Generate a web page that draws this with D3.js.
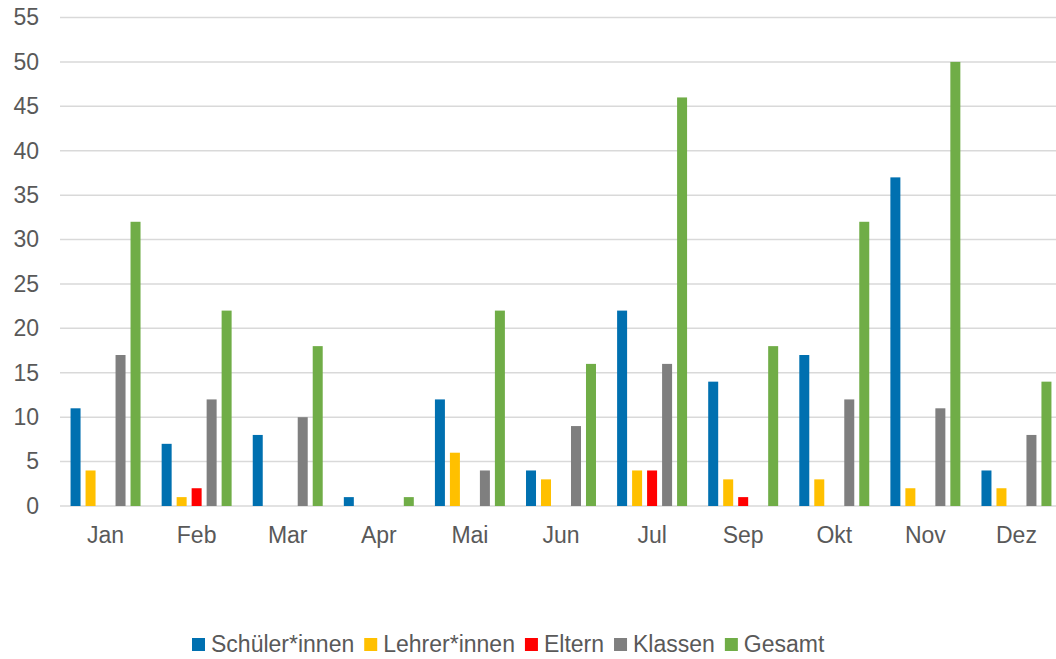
<!DOCTYPE html>
<html>
<head>
<meta charset="utf-8">
<script src="https://cdn.jsdelivr.net/npm/d3@7"></script>
<style>
  html, body { margin: 0; padding: 0; background: #fff; }
  svg { display: block; }
  text { font-family: "Liberation Sans", Arial, sans-serif; fill: #595959; }
</style>
</head>
<body>
<svg id="chart" width="1056" height="659"></svg>
<script>
const categories = ["Jan", "Feb", "Mar", "Apr", "Mai", "Jun", "Jul", "Sep", "Okt", "Nov", "Dez"];
const seriesNames = ["Schüler*innen", "Lehrer*innen", "Eltern", "Klassen", "Gesamt"];
const seriesColors = ["#0070b0", "#ffc000", "#ff0000", "#7f7f7f", "#70ad47"];
const schueler = [11, 7, 8, 1, 12, 4, 22, 14, 17, 37, 4];
const lehrer   = [4, 1, 0, 0, 6, 3, 4, 3, 3, 2, 2];
const eltern   = [0, 2, 0, 0, 0, 0, 4, 1, 0, 0, 0];
const klassen  = [17, 12, 10, 0, 4, 9, 16, 0, 12, 11, 8];
const gesamt   = [32, 22, 18, 1, 22, 16, 46, 18, 32, 50, 14];
const yTicks = [0, 5, 10, 15, 20, 25, 30, 35, 40, 45, 50, 55];

(function () {
const seriesValues = [schueler, lehrer, eltern, klassen, gesamt];
const svg = d3.select("#chart");
const fs = 23;

const mLeft = 60, mRight = 1062, mTop = 17.5, mBottom = 506;

const x0 = d3.scaleBand().domain(categories).range([mLeft, mRight])
  .paddingInner(0.177).paddingOuter(0.0885);
const x1 = d3.scaleBand().domain(seriesNames).range([0, x0.bandwidth()])
  .paddingInner(1/3).paddingOuter(1/6);
const y = d3.scaleLinear().domain([0, 55]).range([mBottom, mTop]);

// gridlines
svg.append("g").selectAll("line").data(yTicks).join("line")
  .attr("x1", mLeft).attr("x2", 1056)
  .attr("y1", d => y(d)).attr("y2", d => y(d))
  .attr("stroke", "#d9d9d9").attr("stroke-width", 1.5);

// y axis labels
const yAxis = d3.axisLeft(y).tickValues(yTicks).tickSize(0).tickPadding(0);
const gy = svg.append("g").attr("transform", "translate(39,0)").call(yAxis);
gy.select(".domain").remove();
gy.selectAll("text").attr("font-size", fs).attr("fill", "#595959")
  .attr("font-family", "Liberation Sans, Arial, sans-serif");

// x axis labels
const xAxis = d3.axisBottom(x0).tickSize(0).tickPadding(0);
const gx = svg.append("g").attr("transform", `translate(0,${mBottom})`).call(xAxis);
gx.select(".domain").remove();
gx.selectAll("text").attr("font-size", fs).attr("fill", "#595959")
  .attr("font-family", "Liberation Sans, Arial, sans-serif")
  .attr("dy", null).attr("y", 37);

// bars
const groups = svg.append("g").selectAll("g").data(categories).join("g")
  .attr("transform", d => `translate(${x0(d)},0)`);
groups.selectAll("rect")
  .data((c, i) => seriesNames.map((s, j) => ({ s, j, v: seriesValues[j][i] })))
  .join("rect")
  .attr("x", d => x1(d.s))
  .attr("width", x1.bandwidth())
  .attr("y", d => y(d.v))
  .attr("height", d => y(0) - y(d.v))
  .attr("fill", d => seriesColors[d.j]);

// legend
const legend = svg.append("g").attr("transform", "translate(192,652)");
let lx = 0;
seriesNames.forEach((name, i) => {
  legend.append("rect").attr("x", lx).attr("y", -14).attr("width", 13).attr("height", 13)
    .attr("fill", seriesColors[i]);
  const t = legend.append("text").attr("x", lx + 19).attr("y", 0)
    .attr("font-size", fs).text(name);
  lx += 19 + t.node().getComputedTextLength() + 10;
});
})();
</script>
</body>
</html>
